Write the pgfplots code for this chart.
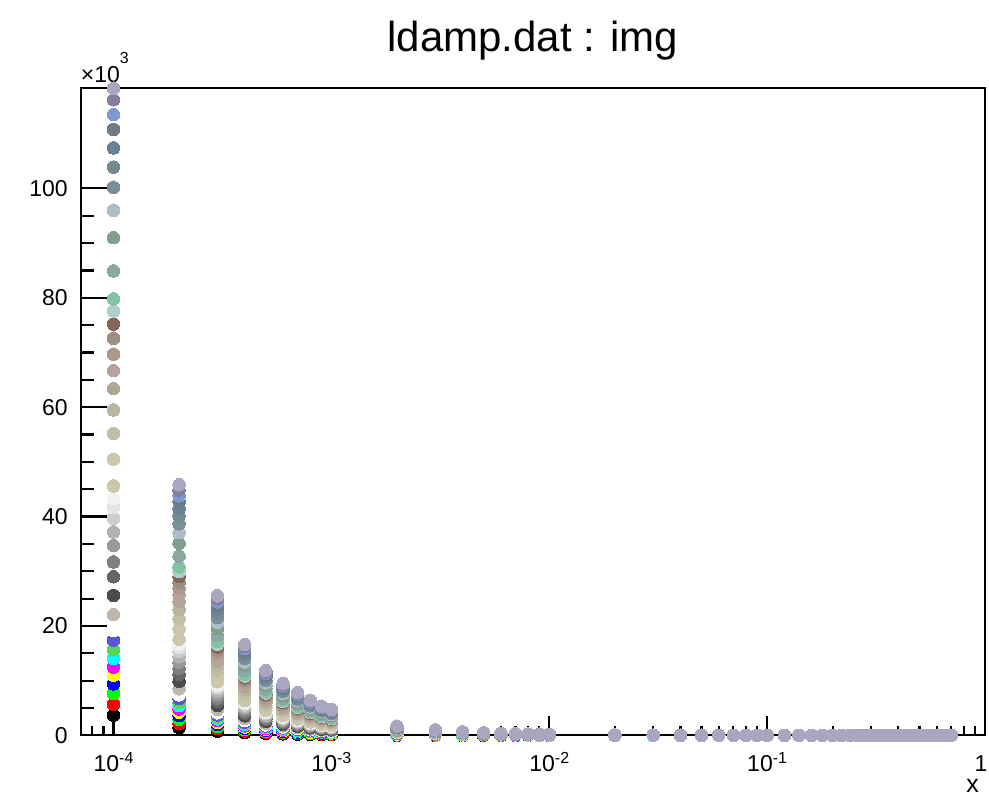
\documentclass[border=0pt]{standalone}
\usepackage{fontspec}
\setmainfont{Liberation Sans}
\usepackage{pgfplots}
\usepackage{pgfplotstable}
\pgfplotsset{compat=1.18}
\definecolor{c1}{rgb}{0,0,0}
\definecolor{c2}{rgb}{1,0,0}
\definecolor{c3}{rgb}{0,1,0}
\definecolor{c4}{rgb}{0,0,1}
\definecolor{c5}{rgb}{1,1,0}
\definecolor{c6}{rgb}{1,0,1}
\definecolor{c7}{rgb}{0,1,1}
\definecolor{c8}{rgb}{0.35,0.83,0.33}
\definecolor{c9}{rgb}{0.35,0.33,0.85}
\definecolor{c10}{rgb}{0.999,0.999,0.999}
\definecolor{c11}{rgb}{0.754,0.715,0.676}
\definecolor{c12}{rgb}{0.3,0.3,0.3}
\definecolor{c13}{rgb}{0.4,0.4,0.4}
\definecolor{c14}{rgb}{0.5,0.5,0.5}
\definecolor{c15}{rgb}{0.6,0.6,0.6}
\definecolor{c16}{rgb}{0.7,0.7,0.7}
\definecolor{c17}{rgb}{0.8,0.8,0.8}
\definecolor{c18}{rgb}{0.9,0.9,0.9}
\definecolor{c19}{rgb}{0.95,0.95,0.95}
\definecolor{c20}{rgb}{0.8,0.78,0.67}
\definecolor{c21}{rgb}{0.8,0.78,0.67}
\definecolor{c22}{rgb}{0.76,0.75,0.66}
\definecolor{c23}{rgb}{0.73,0.71,0.64}
\definecolor{c24}{rgb}{0.7,0.65,0.59}
\definecolor{c25}{rgb}{0.72,0.64,0.61}
\definecolor{c26}{rgb}{0.68,0.6,0.55}
\definecolor{c27}{rgb}{0.61,0.56,0.51}
\definecolor{c28}{rgb}{0.53,0.4,0.34}
\definecolor{c29}{rgb}{0.69,0.81,0.78}
\definecolor{c30}{rgb}{0.52,0.76,0.64}
\definecolor{c31}{rgb}{0.54,0.66,0.63}
\definecolor{c32}{rgb}{0.51,0.62,0.55}
\definecolor{c33}{rgb}{0.68,0.74,0.78}
\definecolor{c34}{rgb}{0.48,0.56,0.6}
\definecolor{c35}{rgb}{0.46,0.54,0.57}
\definecolor{c36}{rgb}{0.41,0.51,0.59}
\definecolor{c37}{rgb}{0.43,0.48,0.52}
\definecolor{c38}{rgb}{0.49,0.6,0.82}
\definecolor{c39}{rgb}{0.5,0.5,0.61}
\definecolor{c40}{rgb}{0.67,0.65,0.75}
% values in units of 10^3
\pgfplotstableread{
x s1 s2 s3 s4 s5 s6 s7 s8 s9 s10 s11 s12 s13 s14 s15 s16 s17 s18 s19 s20 s21 s22 s23 s24 s25 s26 s27 s28 s29 s30 s31 s32 s33 s34 s35 s36 s37 s38 s39 s40
1e-4 3.7 5.7 7.7 9.4 11.0 12.5 14.1 15.7 17.4 19.2 22.1 25.6 29.0 31.7 34.7 37.2 39.7 41.7 43.3 45.6 50.5 55.2 59.5 63.4 66.7 69.7 72.6 75.2 77.6 79.8 84.9 91.0 96.0 100.2 103.9 107.4 110.8 113.5 116.2 118.3
2e-4 1.43 2.20 2.97 3.63 4.25 4.83 5.44 6.06 6.72 7.41 8.53 9.88 11.19 12.24 13.39 14.36 15.32 16.10 16.71 17.60 19.49 21.31 22.97 24.47 25.75 26.90 28.02 29.03 29.95 30.80 32.77 35.13 37.06 38.68 40.11 41.46 42.77 43.81 44.85 45.82
3e-4 0.80 1.23 1.66 2.02 2.37 2.69 3.03 3.38 3.74 4.13 4.75 5.50 6.24 6.82 7.46 8.00 8.54 8.97 9.31 9.80 10.86 11.87 12.79 13.63 14.34 14.99 15.61 16.17 16.68 17.16 18.25 19.57 20.64 21.54 22.34 23.09 23.82 24.40 24.98 25.52
4e-4 0.52 0.80 1.08 1.32 1.54 1.75 1.97 2.20 2.44 2.69 3.09 3.58 4.06 4.44 4.86 5.21 5.56 5.84 6.06 6.38 7.07 7.73 8.33 8.88 9.34 9.76 10.16 10.53 10.86 11.17 11.89 12.74 13.44 14.03 14.55 15.04 15.51 15.89 16.27 16.62
5e-4 0.37 0.57 0.77 0.94 1.10 1.25 1.41 1.57 1.74 1.92 2.21 2.56 2.90 3.17 3.47 3.72 3.97 4.17 4.33 4.56 5.05 5.52 5.95 6.34 6.67 6.97 7.26 7.52 7.76 7.98 8.49 9.10 9.60 10.02 10.39 10.74 11.08 11.35 11.62 11.87
6e-4 0.30 0.46 0.62 0.75 0.88 1.00 1.13 1.26 1.39 1.54 1.77 2.05 2.32 2.54 2.78 2.98 3.18 3.34 3.46 3.65 4.04 4.42 4.76 5.07 5.34 5.58 5.81 6.02 6.21 6.38 6.79 7.28 7.68 8.02 8.31 8.59 8.86 9.08 9.30 9.50
7e-4 0.24 0.38 0.51 0.62 0.73 0.83 0.93 1.04 1.15 1.27 1.46 1.69 1.91 2.09 2.29 2.46 2.62 2.75 2.86 3.01 3.33 3.64 3.93 4.18 4.40 4.60 4.79 4.96 5.12 5.27 5.60 6.01 6.34 6.61 6.86 7.09 7.31 7.49 7.67 7.83
8e-4 0.20 0.31 0.42 0.51 0.59 0.68 0.76 0.85 0.94 1.04 1.19 1.38 1.57 1.71 1.87 2.01 2.14 2.25 2.34 2.46 2.73 2.98 3.21 3.42 3.60 3.76 3.92 4.06 4.19 4.31 4.58 4.91 5.18 5.41 5.61 5.80 5.98 6.13 6.27 6.41
9e-4 0.17 0.26 0.35 0.42 0.50 0.56 0.63 0.71 0.78 0.86 0.99 1.15 1.31 1.43 1.56 1.67 1.79 1.88 1.95 2.05 2.27 2.48 2.68 2.85 3.00 3.14 3.27 3.38 3.49 3.59 3.82 4.10 4.32 4.51 4.68 4.83 4.99 5.11 5.23 5.34
1e-3 0.15 0.23 0.31 0.38 0.44 0.50 0.56 0.63 0.70 0.77 0.88 1.02 1.16 1.27 1.39 1.49 1.59 1.67 1.73 1.82 2.02 2.21 2.38 2.54 2.67 2.79 2.90 3.01 3.10 3.19 3.40 3.64 3.84 4.01 4.16 4.30 4.43 4.54 4.65 4.75
2e-3 0.05 0.08 0.11 0.13 0.16 0.18 0.20 0.22 0.25 0.27 0.32 0.37 0.41 0.45 0.50 0.53 0.57 0.60 0.62 0.65 0.72 0.79 0.85 0.91 0.95 1.00 1.04 1.08 1.11 1.14 1.21 1.30 1.37 1.43 1.49 1.54 1.58 1.62 1.66 1.70
3e-3 0.03 0.05 0.06 0.08 0.09 0.11 0.12 0.13 0.15 0.16 0.19 0.22 0.24 0.27 0.29 0.31 0.33 0.35 0.36 0.38 0.42 0.46 0.50 0.53 0.56 0.59 0.61 0.63 0.65 0.67 0.71 0.76 0.81 0.84 0.87 0.90 0.93 0.95 0.98 1.00
4e-3 0.02 0.03 0.04 0.05 0.06 0.07 0.08 0.09 0.10 0.11 0.12 0.14 0.16 0.17 0.19 0.20 0.22 0.23 0.24 0.25 0.28 0.30 0.33 0.35 0.37 0.38 0.40 0.41 0.43 0.44 0.47 0.50 0.53 0.55 0.57 0.59 0.61 0.62 0.64 0.65
5e-3 0.01 0.02 0.03 0.04 0.04 0.05 0.06 0.06 0.07 0.08 0.09 0.10 0.12 0.13 0.14 0.15 0.16 0.17 0.17 0.18 0.20 0.22 0.24 0.25 0.27 0.28 0.29 0.30 0.31 0.32 0.34 0.36 0.38 0.40 0.42 0.43 0.44 0.45 0.46 0.47
6e-3 0.01 0.02 0.02 0.03 0.03 0.04 0.04 0.05 0.05 0.06 0.07 0.08 0.09 0.10 0.11 0.12 0.12 0.13 0.13 0.14 0.16 0.17 0.18 0.20 0.21 0.22 0.23 0.23 0.24 0.25 0.26 0.28 0.30 0.31 0.32 0.33 0.34 0.35 0.36 0.37
7e-3 0.01 0.01 0.02 0.02 0.03 0.03 0.04 0.04 0.04 0.05 0.06 0.06 0.07 0.08 0.09 0.09 0.10 0.10 0.11 0.11 0.13 0.14 0.15 0.16 0.17 0.17 0.18 0.19 0.19 0.20 0.21 0.23 0.24 0.25 0.26 0.27 0.28 0.28 0.29 0.30
8e-3 0.01 0.01 0.02 0.02 0.02 0.03 0.03 0.03 0.04 0.04 0.05 0.05 0.06 0.07 0.07 0.08 0.08 0.09 0.09 0.10 0.11 0.12 0.12 0.13 0.14 0.15 0.15 0.16 0.16 0.17 0.18 0.19 0.20 0.21 0.22 0.23 0.23 0.24 0.24 0.25
9e-3 0.01 0.01 0.01 0.02 0.02 0.02 0.03 0.03 0.03 0.03 0.04 0.05 0.05 0.06 0.06 0.07 0.07 0.08 0.08 0.08 0.09 0.10 0.11 0.11 0.12 0.13 0.13 0.14 0.14 0.14 0.15 0.16 0.17 0.18 0.19 0.19 0.20 0.20 0.21 0.21
1e-2 0.01 0.01 0.01 0.02 0.02 0.02 0.02 0.03 0.03 0.03 0.04 0.04 0.05 0.05 0.06 0.06 0.06 0.07 0.07 0.07 0.08 0.09 0.10 0.10 0.11 0.11 0.12 0.12 0.12 0.13 0.14 0.15 0.15 0.16 0.17 0.17 0.18 0.18 0.19 0.19
2e-2 0 0 0 0.01 0.01 0.01 0.01 0.01 0.01 0.01 0.01 0.02 0.02 0.02 0.02 0.02 0.02 0.03 0.03 0.03 0.03 0.03 0.04 0.04 0.04 0.04 0.04 0.05 0.05 0.05 0.05 0.05 0.06 0.06 0.06 0.06 0.07 0.07 0.07 0.07
3e-2 0 0 0 0 0 0 0 0.01 0.01 0.01 0.01 0.01 0.01 0.01 0.01 0.01 0.01 0.01 0.01 0.02 0.02 0.02 0.02 0.02 0.02 0.02 0.02 0.03 0.03 0.03 0.03 0.03 0.03 0.03 0.04 0.04 0.04 0.04 0.04 0.04
4e-2 0 0 0 0 0 0 0 0 0 0 0 0.01 0.01 0.01 0.01 0.01 0.01 0.01 0.01 0.01 0.01 0.01 0.01 0.01 0.01 0.01 0.01 0.02 0.02 0.02 0.02 0.02 0.02 0.02 0.02 0.02 0.02 0.02 0.02 0.02
5e-2 0 0 0 0 0 0 0 0 0 0 0 0.01 0.01 0.01 0.01 0.01 0.01 0.01 0.01 0.01 0.01 0.01 0.01 0.01 0.01 0.01 0.01 0.02 0.02 0.02 0.02 0.02 0.02 0.02 0.02 0.02 0.02 0.02 0.02 0.02
6e-2 0 0 0 0 0 0 0 0 0 0 0 0 0 0 0 0 0 0 0 0 0.01 0.01 0.01 0.01 0.01 0.01 0.01 0.01 0.01 0.01 0.01 0.01 0.01 0.01 0.01 0.01 0.01 0.01 0.01 0.01
7e-2 0 0 0 0 0 0 0 0 0 0 0 0 0 0 0 0 0 0 0 0 0.01 0.01 0.01 0.01 0.01 0.01 0.01 0.01 0.01 0.01 0.01 0.01 0.01 0.01 0.01 0.01 0.01 0.01 0.01 0.01
8e-2 0 0 0 0 0 0 0 0 0 0 0 0 0 0 0 0 0 0 0 0 0.01 0.01 0.01 0.01 0.01 0.01 0.01 0.01 0.01 0.01 0.01 0.01 0.01 0.01 0.01 0.01 0.01 0.01 0.01 0.01
9e-2 0 0 0 0 0 0 0 0 0 0 0 0 0 0 0 0 0 0 0 0 0.01 0.01 0.01 0.01 0.01 0.01 0.01 0.01 0.01 0.01 0.01 0.01 0.01 0.01 0.01 0.01 0.01 0.01 0.01 0.01
0.10 0 0 0 0 0 0 0 0 0 0 0 0 0 0 0 0 0 0 0 0 0 0 0 0 0 0 0 0 0 0 0.01 0.01 0.01 0.01 0.01 0.01 0.01 0.01 0.01 0.01
0.12 0 0 0 0 0 0 0 0 0 0 0 0 0 0 0 0 0 0 0 0 0 0 0 0 0 0 0 0 0 0 0.01 0.01 0.01 0.01 0.01 0.01 0.01 0.01 0.01 0.01
0.14 0 0 0 0 0 0 0 0 0 0 0 0 0 0 0 0 0 0 0 0 0 0 0 0 0 0 0 0 0 0 0.01 0.01 0.01 0.01 0.01 0.01 0.01 0.01 0.01 0.01
0.16 0 0 0 0 0 0 0 0 0 0 0 0 0 0 0 0 0 0 0 0 0 0 0 0 0 0 0 0 0 0 0 0 0 0 0 0 0 0 0 0
0.18 0 0 0 0 0 0 0 0 0 0 0 0 0 0 0 0 0 0 0 0 0 0 0 0 0 0 0 0 0 0 0 0 0 0 0 0 0 0 0 0
0.20 0 0 0 0 0 0 0 0 0 0 0 0 0 0 0 0 0 0 0 0 0 0 0 0 0 0 0 0 0 0 0 0 0 0 0 0 0 0 0 0
0.22 0 0 0 0 0 0 0 0 0 0 0 0 0 0 0 0 0 0 0 0 0 0 0 0 0 0 0 0 0 0 0 0 0 0 0 0 0 0 0 0
0.24 0 0 0 0 0 0 0 0 0 0 0 0 0 0 0 0 0 0 0 0 0 0 0 0 0 0 0 0 0 0 0 0 0 0 0 0 0 0 0 0
0.26 0 0 0 0 0 0 0 0 0 0 0 0 0 0 0 0 0 0 0 0 0 0 0 0 0 0 0 0 0 0 0 0 0 0 0 0 0 0 0 0
0.28 0 0 0 0 0 0 0 0 0 0 0 0 0 0 0 0 0 0 0 0 0 0 0 0 0 0 0 0 0 0 0 0 0 0 0 0 0 0 0 0
0.30 0 0 0 0 0 0 0 0 0 0 0 0 0 0 0 0 0 0 0 0 0 0 0 0 0 0 0 0 0 0 0 0 0 0 0 0 0 0 0 0
0.32 0 0 0 0 0 0 0 0 0 0 0 0 0 0 0 0 0 0 0 0 0 0 0 0 0 0 0 0 0 0 0 0 0 0 0 0 0 0 0 0
0.34 0 0 0 0 0 0 0 0 0 0 0 0 0 0 0 0 0 0 0 0 0 0 0 0 0 0 0 0 0 0 0 0 0 0 0 0 0 0 0 0
0.36 0 0 0 0 0 0 0 0 0 0 0 0 0 0 0 0 0 0 0 0 0 0 0 0 0 0 0 0 0 0 0 0 0 0 0 0 0 0 0 0
0.38 0 0 0 0 0 0 0 0 0 0 0 0 0 0 0 0 0 0 0 0 0 0 0 0 0 0 0 0 0 0 0 0 0 0 0 0 0 0 0 0
0.40 0 0 0 0 0 0 0 0 0 0 0 0 0 0 0 0 0 0 0 0 0 0 0 0 0 0 0 0 0 0 0 0 0 0 0 0 0 0 0 0
0.42 0 0 0 0 0 0 0 0 0 0 0 0 0 0 0 0 0 0 0 0 0 0 0 0 0 0 0 0 0 0 0 0 0 0 0 0 0 0 0 0
0.44 0 0 0 0 0 0 0 0 0 0 0 0 0 0 0 0 0 0 0 0 0 0 0 0 0 0 0 0 0 0 0 0 0 0 0 0 0 0 0 0
0.46 0 0 0 0 0 0 0 0 0 0 0 0 0 0 0 0 0 0 0 0 0 0 0 0 0 0 0 0 0 0 0 0 0 0 0 0 0 0 0 0
0.48 0 0 0 0 0 0 0 0 0 0 0 0 0 0 0 0 0 0 0 0 0 0 0 0 0 0 0 0 0 0 0 0 0 0 0 0 0 0 0 0
0.50 0 0 0 0 0 0 0 0 0 0 0 0 0 0 0 0 0 0 0 0 0 0 0 0 0 0 0 0 0 0 0 0 0 0 0 0 0 0 0 0
0.52 0 0 0 0 0 0 0 0 0 0 0 0 0 0 0 0 0 0 0 0 0 0 0 0 0 0 0 0 0 0 0 0 0 0 0 0 0 0 0 0
0.54 0 0 0 0 0 0 0 0 0 0 0 0 0 0 0 0 0 0 0 0 0 0 0 0 0 0 0 0 0 0 0 0 0 0 0 0 0 0 0 0
0.56 0 0 0 0 0 0 0 0 0 0 0 0 0 0 0 0 0 0 0 0 0 0 0 0 0 0 0 0 0 0 0 0 0 0 0 0 0 0 0 0
0.58 0 0 0 0 0 0 0 0 0 0 0 0 0 0 0 0 0 0 0 0 0 0 0 0 0 0 0 0 0 0 0 0 0 0 0 0 0 0 0 0
0.60 0 0 0 0 0 0 0 0 0 0 0 0 0 0 0 0 0 0 0 0 0 0 0 0 0 0 0 0 0 0 0 0 0 0 0 0 0 0 0 0
0.62 0 0 0 0 0 0 0 0 0 0 0 0 0 0 0 0 0 0 0 0 0 0 0 0 0 0 0 0 0 0 0 0 0 0 0 0 0 0 0 0
0.64 0 0 0 0 0 0 0 0 0 0 0 0 0 0 0 0 0 0 0 0 0 0 0 0 0 0 0 0 0 0 0 0 0 0 0 0 0 0 0 0
0.66 0 0 0 0 0 0 0 0 0 0 0 0 0 0 0 0 0 0 0 0 0 0 0 0 0 0 0 0 0 0 0 0 0 0 0 0 0 0 0 0
0.68 0 0 0 0 0 0 0 0 0 0 0 0 0 0 0 0 0 0 0 0 0 0 0 0 0 0 0 0 0 0 0 0 0 0 0 0 0 0 0 0
0.70 0 0 0 0 0 0 0 0 0 0 0 0 0 0 0 0 0 0 0 0 0 0 0 0 0 0 0 0 0 0 0 0 0 0 0 0 0 0 0 0
}\data
\newcommand{\tp}[1]{10\raisebox{8.4pt}{\fontsize{16}{16}\selectfont #1}}
\begin{document}
\begin{tikzpicture}
\useasboundingbox (-80.7pt,-61.6pt) rectangle (908.3pt,735.4pt);
\fill[white] (-80.7pt,-61.6pt) rectangle (908.3pt,735.4pt);
\begin{axis}[
  at={(0,0)}, anchor=south west,
  scale only axis, width=904.3pt, height=647.1pt,
  xmode=log, xmin=7.07e-5, xmax=1,
  ymin=0, ymax=118.3,
  clip=false,
  axis line style={line width=2.2pt},
  tick style={line width=2.2pt, black},
  tick align=inside,
  xtick pos=left, ytick pos=left,
  xtick={1e-4,1e-3,1e-2,1e-1,1},
  xticklabels={\tp{-4},\tp{-3},\tp{-2},\tp{-1},\kern-8pt 1},
  minor xtick={8e-5,9e-5,2e-4,3e-4,4e-4,5e-4,6e-4,7e-4,8e-4,9e-4,2e-3,3e-3,4e-3,5e-3,6e-3,7e-3,8e-3,9e-3,2e-2,3e-2,4e-2,5e-2,6e-2,7e-2,8e-2,9e-2,0.2,0.3,0.4,0.5,0.6,0.7,0.8,0.9},
  ytick={0,20,40,60,80,100},
  minor y tick num=3,
  scaled y ticks=false,
  /pgf/number format/assume math mode=true,
  xtick style={/pgfplots/major tick length=19pt,/pgfplots/minor tick length=9pt},
  ytick style={/pgfplots/major tick length=26pt,/pgfplots/minor tick length=13pt},
  xticklabel style={font=\fontsize{23}{23}\selectfont, anchor=base, inner sep=0pt, yshift=-36.6pt},
  yticklabel style={font=\fontsize{23}{23}\selectfont, anchor=east, inner sep=0pt, xshift=-12.7pt},
]
\pgfplotsinvokeforeach{1,...,40}{
  \addplot[only marks, mark=*, color=c#1, mark size=6.3pt, mark options={line width=0pt}] table[x=x, y=s#1] {\data};
}
\node[anchor=base, inner sep=0pt, font=\fontsize{42}{42}\selectfont] at (rel axis cs:0.5,1) [yshift=36.6pt] {ldamp.dat : img};
\node[anchor=base west, inner sep=0pt, font=\fontsize{23}{23}\selectfont] at (rel axis cs:0,1) [yshift=5.6pt] {×10\raisebox{19pt}{\fontsize{16}{16}\selectfont 3}};
\node[anchor=base east, inner sep=0pt, font=\fontsize{25}{25}\selectfont] at (rel axis cs:1,0) [xshift=-6pt, yshift=-57pt] {x};
\end{axis}
\end{tikzpicture}
\end{document}
